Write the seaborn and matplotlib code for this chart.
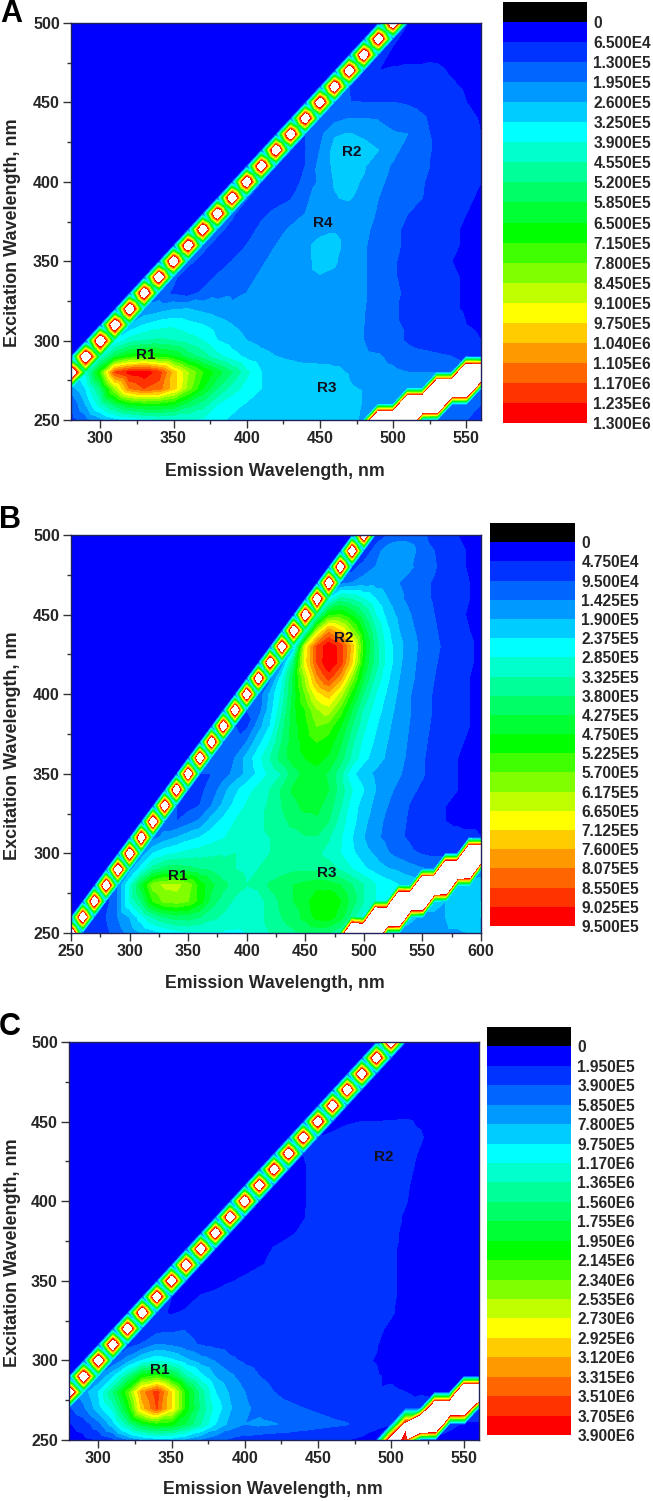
# Excitation-emission contour maps, panels A, B, C
import numpy as np
import matplotlib
matplotlib.use("Agg")
import matplotlib.pyplot as plt
import matplotlib.tri as mtri
from matplotlib.colors import ListedColormap, BoundaryNorm
from matplotlib.ticker import MultipleLocator
import seaborn as sns

excitation = list(range(250, 501, 10))
emission_a = list(range(280, 561, 10))
emission_b = list(range(250, 601, 10))
emission_c = list(range(280, 561, 10))

# intensities as multiples of the contour step, one row per excitation (250 -> 500)
# a row that starts at the scatter line has only the blue background left of it
background = 0.4

step_a = 6.5e4
step_b = 4.75e4
step_c = 1.95e5

# value halfway between two neighbours on the scatter line
link_a = 6.5
link_b = 4.0
link_c = 3.5

rows_a = [
    [1.5, 2.5, 3.5, 4.5, 5, 5.5, 5.8, 5.9, 6, 5.8, 5.2, 4.8, 4.6, 4.5, 4.5, 4.5, 4.5, 4.5, 4.5, 4.3, 3.8, 38, 38, 38, 3, 2.5, 2.5, 2, 1.5],
    [2, 4, 6.5, 8.5, 10, 10.5, 10.5, 10, 8.5, 7.5, 6, 5.3, 4.9, 4.8, 4.7, 4.7, 4.7, 4.6, 4.6, 4.5, 3.9, 3.8, 3.5, 38, 38, 38, 3, 2.5, 2],
    [3.5, 5, 8, 13, 17, 18, 17.5, 15.5, 12.5, 10, 8, 6.5, 5.6, 5, 4.9, 4.9, 4.9, 4.9, 4.9, 4.1, 3.9, 3.7, 3.5, 3.3, 3.2, 38, 38, 38, 3],
    [27, 6, 11, 18, 19.3, 19.6, 18.5, 15.5, 13, 11, 9.5, 8, 6.2, 5, 4.7, 4.6, 4.5, 4.4, 4.2, 3.9, 3.6, 3.4, 3.2, 3, 3, 3, 3, 38, 38],
    [0.8, 27, 6, 9, 10.5, 11, 10.5, 10, 8.5, 7.5, 6.3, 5.4, 4.7, 4.3, 4, 3.8, 3.6, 3.6, 3.6, 3.6, 3.2, 3.1, 2.7, 2.3, 2.2, 2.1, 2, 1.5, 1.2],
    [27, 5, 6.5, 7, 7.2, 7, 6.5, 6, 5, 4.5, 4, 3.7, 3.5, 3.4, 3.3, 3.3, 3.3, 3.3, 3, 2.5, 2.2, 1.9, 1.7, 1.6, 1.5, 1.3, 1],
    [27, 4, 5, 5.5, 5.7, 5.3, 5, 4.5, 4, 3.6, 3.4, 3.3, 3.3, 3.3, 3.3, 3.2, 3.2, 3, 2.4, 2.1, 1.9, 1.6, 1.5, 1.3, 1, 0.8],
    [27, 3.2, 3.5, 3.9, 4, 3.7, 3.4, 3.1, 3, 3.2, 3.3, 3.4, 3.4, 3.4, 3.4, 3.4, 3.05, 2.4, 2.1, 1.8, 1.6, 1.4, 1.1, 0.9, 0.8],
    [27, 2.5, 1.8, 1.5, 2.2, 2.7, 2.9, 3, 3.3, 3.5, 3.6, 3.7, 3.8, 3.7, 3.5, 3.1, 2.6, 2.2, 1.8, 1.5, 1.3, 1.1, 0.9, 0.8],
    [27, 2.2, 1.3, 1.5, 2.1, 2.6, 2.8, 3.1, 3.4, 3.6, 3.8, 3.95, 3.85, 3.5, 3.1, 2.6, 2.1, 1.7, 1.4, 1.3, 1.1, 0.9, 0.7],
    [27, 2.3, 1.6, 1.5, 2, 2.5, 2.9, 3.2, 3.5, 3.8, 4.2, 4.1, 3.6, 3.1, 2.6, 2.1, 1.7, 1.4, 1.2, 1, 0.8, 0.7],
    [27, 2.3, 1.6, 1.5, 2, 2.5, 3, 3.4, 3.8, 4.3, 4.3, 3.6, 3.1, 2.6, 2.2, 1.8, 1.5, 1.3, 1.1, 0.9, 0.7],
    [27, 2.3, 1.6, 1.6, 2.2, 2.7, 3.1, 3.4, 3.7, 3.9, 3.5, 3.2, 2.7, 2.2, 1.8, 1.5, 1.3, 1.1, 0.9, 0.7],
    [27, 2.2, 1.2, 1.8, 2.2, 2.6, 3, 3.3, 3.5, 3.5, 3.3, 2.9, 2.4, 2, 1.7, 1.4, 1.2, 1, 0.8],
    [27, 2.1, 1.1, 1.6, 1.9, 2.8, 3.4, 3.95, 4.1, 3.6, 3, 2.6, 2.3, 2, 1.6, 1.3, 1.1, 0.9],
    [27, 2, 1, 1.6, 2.2, 3.2, 4.05, 4.2, 3.9, 3.2, 2.7, 2.4, 2.05, 1.7, 1.4, 1.2, 1],
    [27, 2, 1.2, 2, 3.3, 4.2, 4.4, 4.1, 3.3, 2.9, 2.5, 2.2, 1.8, 1.5, 1.2, 1.05],
    [27, 2, 1.95, 3, 4.3, 4.6, 4.4, 4, 3.2, 2.7, 2.3, 1.8, 1.5, 1.2, 1.05],
    [27, 2, 2.7, 3.9, 4.05, 3.8, 3.4, 3.1, 3, 2.2, 1.8, 1.5, 1.2, 1],
    [27, 2, 2.6, 3, 3, 2.9, 2.6, 2.4, 2.1, 1.7, 1.4, 1.15, 0.95],
    [27, 2.1, 2.05, 2, 2, 2, 1.9, 1.7, 1.5, 1.3, 1, 0.8],
    [27, 2, 1.3, 1.3, 1.3, 1.4, 1.4, 1.3, 1.1, 0.9, 0.7],
    [27, 2, 1, 1.1, 1.2, 1.2, 1.15, 0.9, 0.7, 0.6],
    [27, 1.5, 0.7, 0.7, 0.7, 0.8, 0.6, 0.5, 0.4],
    [27, 1.2, 0.6, 0.6, 0.6, 0.5, 0.5, 0.4],
    [27, 1, 0.5, 0.5, 0.5, 0.4, 0.4],
]

rows_b = [
    [27, 1, 1.3, 1.7, 2.5, 3.3, 4, 4.5, 5, 5.5, 5.8, 5.8, 5.9, 5.9, 5.9, 6, 6.3, 7, 7.5, 7.8, 8, 8.2, 8, 7, 38, 38, 38, 4, 3.6, 3, 3.2, 3.8, 3.8, 3.8, 4, 4.2],
    [0.8, 27, 1.5, 2, 3, 4, 5.5, 7, 8, 8.5, 8.5, 8, 7.3, 6.8, 6.3, 6.2, 6.5, 7.5, 8, 8.5, 9.3, 10.3, 10.5, 9.5, 7.5, 5.5, 38, 38, 38, 4.5, 3.5, 3.5, 4, 4.5, 4.8, 5],
    [27, 1.5, 3, 6, 8, 11, 12.3, 12.5, 12, 10.5, 8.5, 7.5, 6.8, 6.4, 6.5, 7.5, 8.2, 9, 9.5, 10.8, 11, 10, 8.5, 7, 6, 5.5, 38, 38, 38, 4.8, 4, 4, 4.5, 5],
    [27, 3, 6, 9.5, 12.5, 13.2, 13.3, 12.5, 10.5, 9.2, 8.3, 7.5, 7, 7.2, 8.2, 8.7, 9, 9.3, 9.6, 9.5, 9, 8, 7, 6, 5.5, 5, 4.7, 38, 38, 38, 4.5, 4.2, 4.5],
    [27, 3.5, 5.5, 7.5, 8.5, 8.5, 8.3, 8, 7.8, 7.2, 7, 6.8, 7, 7.3, 7.5, 7.8, 7.8, 7.8, 7.5, 6.8, 6, 5.2, 4.6, 4.1, 3.8, 3.4, 3.1, 3, 38, 38, 38, 3.5],
    [27, 3.2, 5, 5.6, 6, 6.3, 6.5, 6.7, 6.9, 7, 6.8, 6.9, 7, 7, 7.2, 7.2, 7.2, 6.6, 6, 5.2, 4.4, 3.8, 3.1, 2.6, 2.2, 1.9, 1.7, 1.7, 1.6, 38, 38],
    [27, 2.5, 3.5, 4, 4.6, 5, 5.5, 5.9, 6.4, 6.6, 6.8, 7, 7.3, 7.5, 7.9, 7.9, 7.1, 6.1, 5, 4, 3.2, 2.7, 2.2, 1.8, 1.3, 1.2, 1.2, 1.2, 1.2, 1],
    [27, 2.2, 2, 2.6, 3.2, 4.5, 5.3, 6, 6.5, 6.8, 7.2, 7.7, 8.3, 8.6, 8.8, 8, 6.5, 5.3, 4.3, 3.3, 2.8, 2.3, 1.8, 1.5, 1.2, 1, 0.9, 0.8, 0.8],
    [27, 2, 1.6, 2, 3, 4.2, 5.3, 6.1, 6.5, 7.2, 8, 8.7, 9.3, 9.3, 8.5, 7.1, 5.5, 4.5, 3.7, 3, 2.4, 1.9, 1.5, 1.2, 1, 0.9, 0.8, 0.7],
    [27, 2, 1.8, 2.3, 3.6, 4.7, 5.6, 6.3, 7, 8.1, 9.2, 9.6, 9.7, 9, 7.5, 6, 5, 4, 3.3, 2.7, 2.2, 1.8, 1.5, 1.2, 1, 0.8, 0.7],
    [27, 2, 2, 2.5, 3.3, 4.2, 5.2, 6.2, 7, 8.5, 9.3, 9.5, 8.8, 7.3, 5.2, 4.3, 3.8, 3.4, 3.1, 2.6, 2.1, 1.6, 1.3, 1, 0.8, 0.7],
    [27, 2, 2.1, 3, 4.3, 5.6, 7, 8.5, 9.6, 10, 10.4, 9.8, 8.5, 6.7, 5.3, 4.5, 3.8, 3.3, 2.7, 2.1, 1.6, 1.3, 1, 0.8, 0.7],
    [27, 2, 2.2, 3, 4.6, 6, 8, 9.6, 10.3, 11, 10.5, 9.2, 7.2, 5.7, 4.8, 4, 3.4, 2.8, 2.2, 1.7, 1.4, 1.1, 0.9, 0.8],
    [27, 2, 1.7, 3.5, 5, 7.5, 9.6, 10.6, 12, 11.5, 10, 8, 6.2, 5.1, 4.2, 3.5, 2.9, 2.3, 1.8, 1.5, 1.2, 1, 0.8],
    [27, 2, 2.4, 4.5, 6.8, 9.6, 11, 12.8, 13.5, 11.5, 9, 6.8, 5.5, 4.5, 3.6, 3, 2.4, 1.9, 1.5, 1.2, 1, 0.8],
    [27, 2.2, 4.2, 6.2, 9.3, 12, 14.5, 15.5, 13.5, 10.5, 7.8, 6, 4.8, 3.8, 3, 2.4, 1.9, 1.5, 1.2, 1, 0.8],
    [27, 2.5, 5.5, 9.2, 13, 16.5, 18.3, 16.3, 12.5, 9, 6.7, 5.2, 4, 3.2, 2.5, 2, 1.6, 1.2, 1, 0.8],
    [27, 3, 8, 14.5, 18, 20, 18.5, 15, 10, 7.5, 5.6, 4.2, 3.3, 2.6, 2.1, 1.7, 1.3, 1.1, 0.8],
    [27, 4, 14, 18, 19.8, 18.5, 15.5, 10.5, 7.5, 5.5, 4.3, 3.4, 2.7, 2.2, 1.8, 1.4, 1.1, 0.8],
    [27, 5, 13, 16.5, 15, 12.5, 9.5, 7, 5.2, 4, 3.2, 2.6, 2.1, 1.7, 1.3, 1, 0.8],
    [27, 6, 10.5, 11, 9.7, 8, 6, 4.6, 3.7, 3, 2.4, 2, 1.6, 1.2, 0.9, 0.7],
    [27, 5, 7.3, 6.8, 6, 5, 4, 3.2, 2.6, 2.2, 1.9, 1.5, 1.2, 1, 0.7],
    [27, 2.5, 3, 3.4, 3.5, 3.3, 3, 2.6, 2.2, 1.9, 1.6, 1.3, 1, 0.7],
    [27, 1.5, 2.5, 3, 3.3, 3.5, 3.1, 2.6, 2.1, 1.6, 1.2, 0.9, 0.7],
    [27, 1, 2.5, 3.5, 3.7, 3.4, 2.4, 2, 1.5, 1.2, 0.9, 0.7],
    [27, 1.2, 2, 2.5, 2.5, 2.2, 1.6, 1.2, 1, 0.7, 0.6],
]

rows_c = [
    [0.5, 0.7, 1, 1.6, 2.8, 3.8, 4.3, 4.3, 3.6, 2.8, 2.2, 1.8, 1.5, 1.3, 1.2, 1.2, 1.1, 1, 1, 1, 0.9, 0.8, 24, 17.5, 1.2, 0.9, 0.7, 0.6, 0.6],
    [0.9, 1.4, 2.6, 4.5, 7.2, 9.5, 10.5, 10.3, 8.8, 7, 5, 3.6, 3, 3.2, 3.05, 2.8, 2.6, 2.4, 2.2, 2.05, 1.3, 1.1, 1, 21, 38, 38, 1.2, 0.9, 0.9],
    [1.8, 2.8, 4.5, 6.3, 10, 15.5, 18, 15, 10.5, 7.7, 5.6, 4.1, 3.2, 2.7, 2.4, 2.2, 2, 1.8, 1.6, 1.4, 1.1, 1, 1, 1.1, 1.2, 32, 32, 32, 1.4],
    [27, 3.5, 5, 8, 11.5, 16.5, 18.5, 15, 10.5, 7.5, 5, 3.8, 3, 2.4, 2, 1.7, 1.5, 1.3, 1.15, 1.1, 1.05, 1.05, 1.1, 1, 0.95, 0.9, 0.9, 38, 38],
    [0.6, 27, 3, 4.8, 7.5, 10.5, 11.2, 9.5, 7, 5.3, 3.9, 3.2, 2.5, 2, 1.7, 1.5, 1.4, 1.3, 1.2, 1.15, 1.1, 1.05, 0.9, 0.75, 0.7, 0.7, 0.65, 0.6, 0.6],
    [27, 2, 3.5, 5, 5.7, 5.2, 4.2, 3.4, 2.9, 2.2, 1.8, 1.6, 1.5, 1.4, 1.35, 1.3, 1.2, 1.1, 1.05, 0.98, 0.7, 0.6, 0.6, 0.6, 0.6, 0.5, 0.5],
    [27, 1.5, 2.1, 3, 2.8, 2.3, 1.9, 1.7, 1.5, 1.4, 1.4, 1.35, 1.3, 1.3, 1.25, 1.2, 1.15, 1.1, 1.02, 0.8, 0.6, 0.6, 0.6, 0.5, 0.5, 0.5],
    [27, 1.3, 1.5, 1.7, 1.9, 1.6, 1.5, 1.4, 1.4, 1.4, 1.4, 1.4, 1.4, 1.4, 1.4, 1.4, 1.2, 1.1, 0.9, 0.7, 0.6, 0.6, 0.5, 0.5, 0.5],
    [27, 1.2, 0.9, 1.1, 1.3, 1.4, 1.4, 1.4, 1.4, 1.4, 1.4, 1.4, 1.4, 1.4, 1.4, 1.3, 1.2, 1.05, 0.8, 0.6, 0.6, 0.5, 0.5, 0.5],
    [27, 1, 0.7, 1.05, 1.2, 1.3, 1.4, 1.4, 1.4, 1.4, 1.4, 1.4, 1.4, 1.4, 1.3, 1.2, 1.1, 0.8, 0.6, 0.6, 0.5, 0.5, 0.5],
    [27, 1, 0.6, 0.7, 0.95, 1.1, 1.3, 1.3, 1.3, 1.3, 1.3, 1.3, 1.3, 1.3, 1.2, 1.1, 0.8, 0.6, 0.6, 0.5, 0.5, 0.5],
    [27, 0.9, 0.6, 0.7, 0.8, 0.95, 1.1, 1.3, 1.3, 1.3, 1.3, 1.3, 1.3, 1.2, 1.1, 0.8, 0.6, 0.6, 0.5, 0.5, 0.5],
    [27, 0.9, 0.6, 0.7, 0.85, 1.02, 1.1, 1.3, 1.3, 1.3, 1.3, 1.3, 1.2, 1.1, 0.8, 0.6, 0.6, 0.5, 0.5, 0.5],
    [27, 0.9, 0.6, 0.7, 0.85, 0.95, 1.05, 1.3, 1.3, 1.3, 1.3, 1.2, 1.1, 0.9, 0.6, 0.6, 0.5, 0.5, 0.5],
    [27, 0.9, 0.6, 0.8, 0.85, 0.98, 1.1, 1.3, 1.3, 1.3, 1.2, 1.1, 0.95, 0.7, 0.6, 0.5, 0.5, 0.5],
    [27, 0.9, 0.7, 0.8, 0.97, 1.1, 1.3, 1.3, 1.3, 1.2, 1.15, 1.02, 0.8, 0.6, 0.5, 0.5, 0.5],
    [27, 0.9, 0.7, 0.97, 1.1, 1.3, 1.3, 1.3, 1.2, 1.2, 1.05, 0.85, 0.6, 0.5, 0.5, 0.5],
    [27, 0.9, 0.97, 1.1, 1.2, 1.3, 1.3, 1.2, 1.2, 1.1, 0.9, 0.6, 0.5, 0.5, 0.5],
    [27, 1, 1.1, 1.2, 1.3, 1.3, 1.2, 1.2, 1.15, 0.95, 0.7, 0.5, 0.5, 0.5],
    [27, 1, 1.05, 1.1, 1.1, 1.15, 1.15, 1.1, 1.05, 0.8, 0.6, 0.5, 0.5],
    [27, 0.9, 0.97, 1, 1, 1.02, 1.05, 0.95, 0.7, 0.6, 0.5, 0.5],
    [27, 0.8, 0.6, 0.7, 0.7, 0.7, 0.7, 0.6, 0.5, 0.5, 0.5],
    [27, 0.7, 0.5, 0.5, 0.5, 0.5, 0.5, 0.5, 0.5, 0.5],
    [27, 0.7, 0.5, 0.5, 0.5, 0.5, 0.5, 0.5, 0.5],
    [27, 0.7, 0.5, 0.5, 0.5, 0.5, 0.5, 0.5],
    [27, 0.7, 0.5, 0.5, 0.5, 0.5, 0.5],
]

ticks_a = ["0", "6.500E4", "1.300E5", "1.950E5", "2.600E5", "3.250E5", "3.900E5", "4.550E5", "5.200E5", "5.850E5",
           "6.500E5", "7.150E5", "7.800E5", "8.450E5", "9.100E5", "9.750E5", "1.040E6", "1.105E6", "1.170E6", "1.235E6", "1.300E6"]
ticks_b = ["0", "4.750E4", "9.500E4", "1.425E5", "1.900E5", "2.375E5", "2.850E5", "3.325E5", "3.800E5", "4.275E5",
           "4.750E5", "5.225E5", "5.700E5", "6.175E5", "6.650E5", "7.125E5", "7.600E5", "8.075E5", "8.550E5", "9.025E5", "9.500E5"]
ticks_c = ["0", "1.950E5", "3.900E5", "5.850E5", "7.800E5", "9.750E5", "1.170E6", "1.365E6", "1.560E6", "1.755E6",
           "1.950E6", "2.145E6", "2.340E6", "2.535E6", "2.730E6", "2.925E6", "3.120E6", "3.315E6", "3.510E6", "3.705E6", "3.900E6"]

sns.set_theme(style="ticks")
plt.rcParams["font.family"] = ["Liberation Sans", "DejaVu Sans"]
plt.rcParams["font.weight"] = "bold"
plt.rcParams["text.color"] = "#262626"
plt.rcParams["xtick.labelcolor"] = "#262626"
plt.rcParams["ytick.labelcolor"] = "#262626"

# 20 bands: blue > cyan > green > yellow > red
palette = (sns.blend_palette(["#0000ff", "#00ffff"], 6)
           + sns.blend_palette(["#00ffff", "#00ff00"], 6)[1:]
           + sns.blend_palette(["#00ff00", "#ffff00"], 5)[1:]
           + sns.blend_palette(["#ffff00", "#ff0000"], 6)[1:])

W, H = 653, 1501
fig = plt.figure(figsize=(W / 100, H / 100), dpi=100)


def px_axes(left, top, right, bottom):
    return fig.add_axes([left / W, 1 - bottom / H, (right - left) / W, (bottom - top) / H])


def full_grid(rows, em):
    # pad rows on the left with background so that every row has one value per emission
    grid = []
    for ex, row in zip(excitation, rows):
        full = [background] * (len(em) - len(row)) + row
        if ex in em:
            assert full[em.index(ex)] == 27, (ex, len(row))
        else:
            assert len(row) == len(em), (ex, len(row))
        grid.append(full)
    return np.array(grid)


def mesh(em, z, link):
    # every cell is cut along its rising diagonal, the cells on the scatter line get a centre point
    X, Y = np.meshgrid(em, excitation)
    x, y, v = list(X.ravel()), list(Y.ravel()), list(z.ravel())
    n = len(em)
    triangles = []
    for r in range(len(excitation) - 1):
        for c in range(n - 1):
            ll, lr, ul, ur = r * n + c, r * n + c + 1, (r + 1) * n + c, (r + 1) * n + c + 1
            if em[c] == excitation[r]:
                x.append(em[c] + 5)
                y.append(excitation[r] + 5)
                v.append(link)
                m = len(x) - 1
                triangles += [[ll, lr, m], [lr, ur, m], [ur, ul, m], [ul, ll, m]]
            else:
                triangles += [[ll, lr, ur], [ll, ur, ul]]
    return mtri.Triangulation(np.array(x, float), np.array(y, float), triangles), np.array(v)


def contour_panel(box, em, rows, link, step, xlim):
    ax = px_axes(*box)
    tri, v = mesh(em, full_grid(rows, em), link)
    bounds = step * np.arange(21)
    cmap = ListedColormap(palette)
    cmap.set_over("white")
    cs = ax.tricontourf(tri, v * step, levels=bounds, cmap=cmap,
                        norm=BoundaryNorm(bounds, 20), extend="max")
    cs.set_edgecolor("face")
    cs.set_linewidth(0.2)
    ax.set_xlim(*xlim)
    ax.set_ylim(250, 500)
    ax.xaxis.set_major_locator(MultipleLocator(50))
    ax.xaxis.set_minor_locator(MultipleLocator(25))
    ax.yaxis.set_major_locator(MultipleLocator(50))
    ax.yaxis.set_minor_locator(MultipleLocator(25))
    ax.tick_params(which="major", length=5.5, width=1, color="#333333", labelsize=11.5, pad=2.5)
    ax.tick_params(which="minor", length=3, width=1, color="#333333")
    for s in ax.spines.values():
        s.set_linewidth(1)
        s.set_color("#20205a")
    return ax


def color_bar(box, labels):
    ax = px_axes(*box)
    cells = np.arange(21).reshape(-1, 1)
    sns.heatmap(cells, ax=ax, cmap=["black"] + [tuple(c) for c in palette], cbar=False,
                xticklabels=False, yticklabels=False)
    ax.yaxis.tick_right()
    ax.set_yticks(np.arange(1, 22))
    ax.set_yticklabels(labels, rotation=0, fontsize=11.2)
    ax.tick_params(axis="y", length=0, pad=4.5)
    return ax


def axis_titles(ytext, xtext_x, xtext_y):
    fig.text(13 / W, 1 - ytext / H, "Excitation Wavelength, nm", rotation=90, ha="center", va="center", fontsize=13)
    fig.text(xtext_x / W, 1 - xtext_y / H, "Emission Wavelength, nm", ha="center", va="center", fontsize=12.8)


ax_a = contour_panel((71, 23, 481, 420), emission_a, rows_a, link_a, step_a, (280, 560))
ax_b = contour_panel((71, 535, 481, 933), emission_b, rows_b, link_b, step_b, (250, 600))
ax_c = contour_panel((69, 1042, 479, 1440), emission_c, rows_c, link_c, step_c, (280, 560))

color_bar((503, 2, 587, 423), ticks_a)
color_bar((490, 523, 575, 926), ticks_b)
color_bar((487, 1027, 571, 1435), ticks_c)

axis_titles(233, 275, 471)
axis_titles(746, 275, 983)
axis_titles(1253, 273, 1490)

for ax, em, ex, name in [(ax_a, 331, 291, "R1"), (ax_a, 472, 419, "R2"), (ax_a, 455, 270, "R3"), (ax_a, 452, 374, "R4"),
                         (ax_b, 341, 286, "R1"), (ax_b, 483, 435, "R2"), (ax_b, 468, 288, "R3"),
                         (ax_c, 342, 294, "R1"), (ax_c, 495, 428, "R2")]:
    ax.text(em, ex, name, ha="center", va="center", fontsize=11, color="#101020")

fig.text(11 / W, 1 - 14 / H, "A", ha="center", va="center", fontsize=22, color="black")
fig.text(10 / W, 1 - 520 / H, "B", ha="center", va="center", fontsize=22, color="black")
fig.text(10 / W, 1 - 1027 / H, "C", ha="center", va="center", fontsize=22, color="black")

fig.savefig("out.png", dpi=100)
